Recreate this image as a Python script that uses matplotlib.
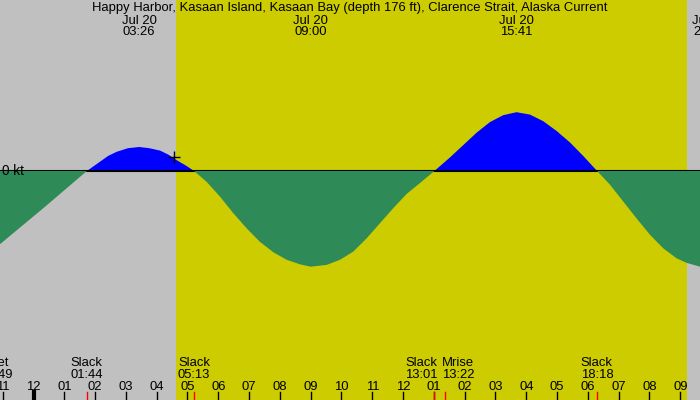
import matplotlib
matplotlib.use('Agg')
import matplotlib.pyplot as plt
import matplotlib.transforms as mtransforms

# Current speed (hours after midnight Jul 20, knots; + flood, - ebb)
hours = [-1.088, 0.341, 1.733,
         2.159, 2.419, 2.701, 3.068, 3.433, 3.76, 4.11, 4.37, 4.65, 4.95, 5.217,
         5.62, 6.06, 6.49, 6.92, 7.35, 7.79, 8.22, 8.65, 9.0, 9.52, 9.95, 10.38,
         10.82, 11.25, 11.68, 12.12, 12.55, 13.017,
         13.52, 13.95, 14.39, 14.82, 15.25, 15.683, 16.12, 16.55, 16.99, 17.42, 17.85, 18.3,
         18.72, 19.15, 19.58, 20.02, 20.45, 20.88, 21.2, 21.64]
speed = [-1.22, -0.61, 0.0,
         0.155, 0.25, 0.32, 0.38, 0.40, 0.38, 0.34, 0.275, 0.18, 0.09, 0.0,
         -0.18, -0.43, -0.705, -0.955, -1.18, -1.355, -1.48, -1.555, -1.595, -1.565, -1.48, -1.345,
         -1.12, -0.87, -0.62, -0.38, -0.20, 0.0,
         0.225, 0.43, 0.64, 0.815, 0.93, 0.98, 0.94, 0.83, 0.665, 0.475, 0.25, 0.0,
         -0.23, -0.51, -0.79, -1.065, -1.29, -1.455, -1.53, -1.595]

# Max current times shown at the top
peak_hours = [3.433, 9.0, 15.683, 21.96]
peak_labels = ['Jul 20\n03:26', 'Jul 20\n09:00', 'Jul 20\n15:41', 'Jul 20\n21:58']

# Events at the bottom
event_hours = [-1.183, 1.733, 5.217, 13.017, 13.367, 18.3]
event_names = ['Mset', 'Slack', 'Slack', 'Slack', 'Mrise', 'Slack']
event_times = ['22:49', '01:44', '05:13', '13:01', '13:22', '18:18']

sunrise = 4.63
sunset = 21.22
now_hour = 4.55
now_speed = 0.23

title = 'Happy Harbor, Kasaan Island, Kasaan Bay (depth 176 ft), Clarence Strait, Alaska Current'

plt.rcParams['font.family'] = ['Liberation Sans', 'DejaVu Sans']

fig = plt.figure(figsize=(7, 4), dpi=100)
ax = fig.add_axes([0, 0, 1, 1])
ax.set_xlim(-1.0877, 21.64)
ax.set_ylim(-229 / 60, 171 / 60)
ax.axis('off')
fig.patch.set_facecolor('#c0c0c0')

# night / day background
ax.axvspan(sunrise, sunset, color='#cccc00', zorder=0, lw=0)

# flood in blue, zero line, ebb in green on top
ax.fill_between(hours, speed, 0, where=[s >= 0 for s in speed], interpolate=True,
                color='#0000ff', lw=0, zorder=1)
ax.axhline(0, color='black', lw=1.5, zorder=2)
ax.fill_between(hours, speed, 0, where=[s <= 0 for s in speed], interpolate=True,
                color='#2e8b57', lw=0, zorder=3)
ax.plot([now_hour], [now_speed], marker='+', color='black', ms=9, mew=1, zorder=4)

fs = 9.4
ax.text(-1.03, 0, '0 kt', fontsize=fs + 0.4, va='center', ha='left', zorder=5)

trans = mtransforms.blended_transform_factory(ax.transData, ax.transAxes)
ax.text(0.5, 1 - 8 / 400, title, transform=ax.transAxes, ha='center', va='center', fontsize=fs)
for h, lab in zip(peak_hours, peak_labels):
    ax.text(h, 1 - 26.5 / 400, lab, transform=trans, ha='center', va='center',
            fontsize=fs, linespacing=0.92)

# hour ticks along the bottom
for h in range(-1, 22):
    lw = 3 if h == 0 else 1
    ax.plot([h, h], [0, 8 / 400], transform=trans, color='black', lw=lw, clip_on=False)
    hh = h % 12
    if hh == 0:
        hh = 12
    ax.text(h, 1 - 386.5 / 400, '%02d' % hh, transform=trans, ha='center', va='center', fontsize=fs)

# event ticks and labels
for i, (h, name, t) in enumerate(zip(event_hours, event_names, event_times)):
    ax.plot([h, h], [0, 8 / 400], transform=trans, color='red', lw=1)
    ha = 'center'
    x = h
    if i + 1 < len(event_hours) and event_hours[i + 1] - h < 1:
        ha = 'right'
        x = (h + event_hours[i + 1]) / 2 - 0.07
    elif i > 0 and h - event_hours[i - 1] < 1:
        ha = 'left'
        x = (h + event_hours[i - 1]) / 2 + 0.07
    ax.text(x, 1 - 369 / 400, name + '\n' + t, transform=trans, ha=ha, va='center',
            fontsize=fs, linespacing=0.92, multialignment='left')

fig.savefig('out.png', dpi=100, facecolor=fig.get_facecolor())
